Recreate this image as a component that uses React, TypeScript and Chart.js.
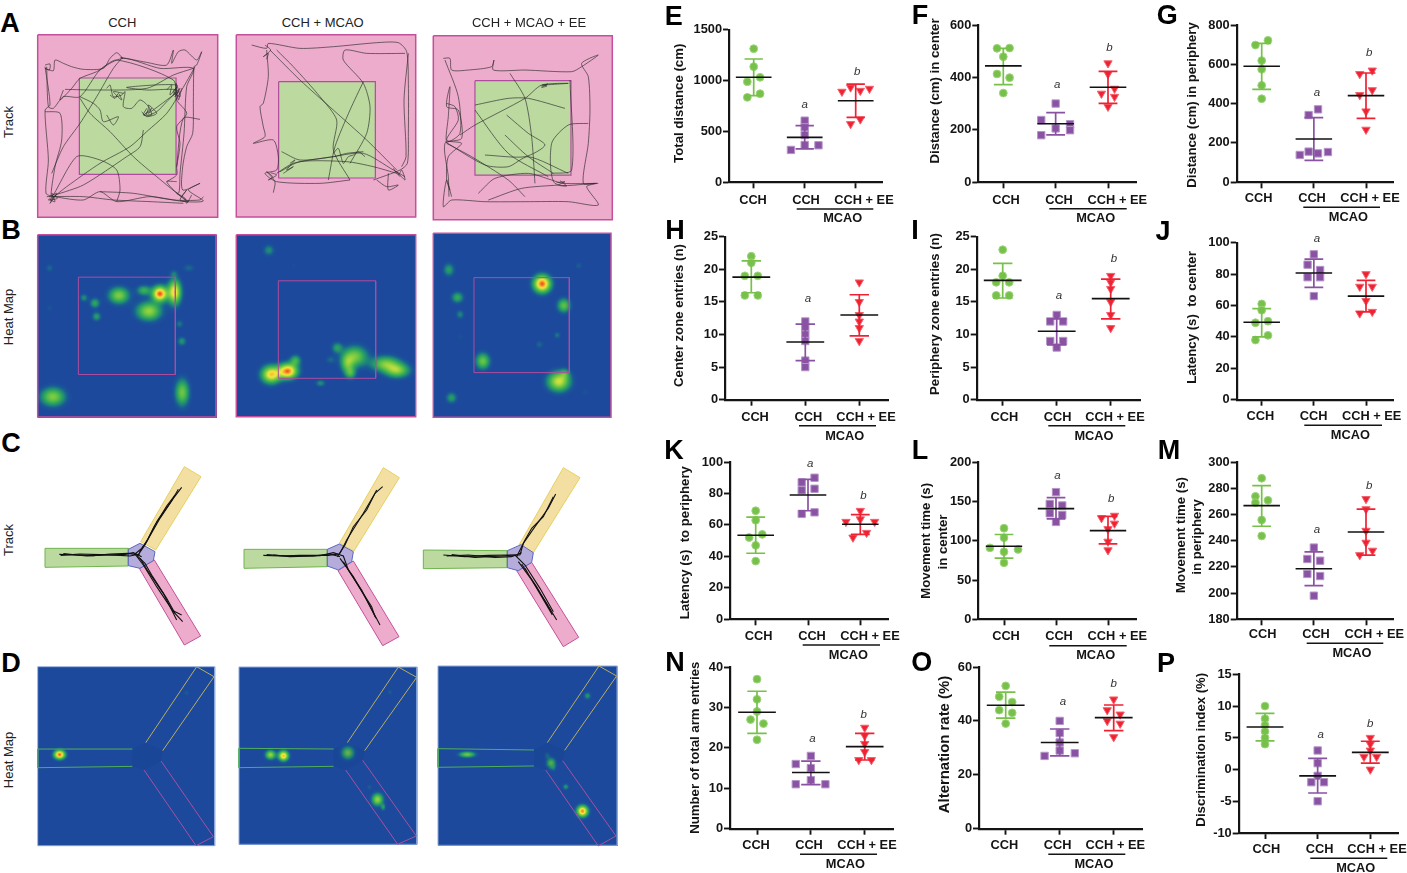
import React, { useEffect, useRef } from "react";
import { Chart, registerables } from "chart.js";

Chart.register(...registerables);
Chart.defaults.font.family = "'Liberation Sans', Arial, sans-serif";

// ---------- scatter data: each point is [horizontal spread, value] ----------
const E_CCH = [[0,1313],[0,1137],[-.125,989],[.125,1032],[-.125,835],[.125,871]];
const E_MCAO = [[0,606],[0,540],[0,465],[0,367],[-.27,318],[.27,364]];
const E_EE = [[-.27,891],[-.1,933],[.09,900],[.27,920],[.09,619],[-.1,573]];
const E_MEAN = [1032,442,802], E_HIGH = [1212,557,966], E_LOW = [852,328,639];
const E_MARKS = [[2,0,763,"a"],[3,.03,1087,"b"]];

const F_CCH = [[-.12,512],[.12,513],[0,480],[-.12,414],[.12,400],[0,341]];
const F_MCAO = [[0,301],[-.275,238],[.275,222],[.275,199],[0,206],[-.275,180]];
const F_EE = [[0,455],[0,414],[.125,358],[-.125,339],[.125,327],[0,289]];
const F_MEAN = [445,224,363], F_HIGH = [512,266,424], F_LOW = [373,181,302];
const F_MARKS = [[2,.03,373,"a"],[3,.03,515,"b"]];

const G_CCH = [[.12,722],[-.12,698],[0,619],[0,575],[0,493],[0,425]];
const G_MCAO = [[.08,371],[-.1,342],[-.27,139],[-.1,156],[.08,147],[.27,154]];
const G_EE = [[-.12,551],[.12,569],[-.12,444],[.12,469],[0,361],[0,268]];
const G_MEAN = [590,220,441], G_HIGH = [707,329,556], G_LOW = [473,112,325];
const G_MARKS = [[2,.06,456,"a"],[3,.06,659,"b"]];

const H_CCH = [[0,22],[0,21],[-.12,19],[.12,19],[-.12,16],[.12,16]];
const H_MCAO = [[0,12],[0,11],[0,10],[0,9],[0,6],[0,5]];
const H_EE = [[0,18],[0,15],[0,13],[0,12],[0,11],[0,9]];
const H_MEAN = [18.8,8.85,13], H_HIGH = [21.3,11.6,16.1], H_LOW = [16.4,6,9.8];
const H_MARKS = [[2,.05,15.4,"a"]];

const I_CCH = [[0,23],[0,19],[-.12,18],[.12,18],[-.12,16],[.12,16]];
const I_MCAO = [[0,13],[-.12,12],[.12,12],[-.12,9],[.12,9],[0,8]];
const I_EE = [[0,19],[0,18],[0,17],[0,15],[0,13],[0,11]];
const I_MEAN = [18.3,10.5,15.5], I_HIGH = [20.9,12.4,18.5], I_LOW = [15.6,8.4,12.4];
const I_MARKS = [[2,.04,15.9,"a"],[3,.06,21.6,"b"]];

const J_CCH = [[0,61],[0,57],[-.12,49],[.12,50],[-.12,38],[.12,41]];
const J_MCAO = [[0,92.6],[-.12,86],[.12,82.6],[-.12,78],[.12,78],[0,66]];
const J_EE = [[0,80],[-.12,72],[.12,72],[0,63],[-.12,55],[.12,56]];
const J_MEAN = [49.3,80.7,66], J_HIGH = [58,89.6,76], J_LOW = [40,71.5,56];
const J_MARKS = [[2,.06,102.3,"a"]];

const K_CCH = [[0,69],[0,63],[-.125,52],[.125,54],[0,47],[0,37]];
const K_MCAO = [[.125,90],[-.12,87],[-.12,82],[.125,83],[-.12,67],[.125,68]];
const K_EE = [[0,69],[0,63.6],[-.274,62],[.274,62],[.12,55],[-.14,52]];
const K_MEAN = [53.4,79,60.4], K_HIGH = [65,89,66.5], K_LOW = [42,69,54];
const K_MARKS = [[2,.04,99,"a"],[3,.06,78.6,"b"]];

const L_CCH = [[0,116],[0,104],[-.27,91],[.27,89],[0,86],[0,72]];
const L_MCAO = [[0,162],[-.12,147],[.12,145],[-.12,135],[.12,133],[0,124]];
const L_EE = [[.125,132],[-.125,129],[.125,122],[0,115],[0,99],[0,88]];
const L_MEAN = [93,141,113], L_HIGH = [108,155,131], L_LOW = [78,128,96];
const L_MARKS = [[2,.03,183,"a"],[3,.06,154,"b"]];

const M_CCH = [[0,287.6],[-.12,273.8],[-.12,269],[.12,270.8],[0,255.8],[0,243.6]];
const M_MCAO = [[0,234.7],[-.125,226],[.12,224.7],[-.125,214.6],[.12,213],[0,198]];
const M_EE = [[0,271.8],[0,264],[0,247.6],[0,238.5],[.125,232.4],[-.12,229]];
const M_MEAN = [266.7,218.6,246.6], M_HIGH = [282,231.4,264], M_LOW = [251,205.7,229];
const M_MARKS = [[2,.06,248.6,"a"],[3,.06,282,"b"]];

const N_CCH = [[0,37],[0,32],[0,29],[-.12,27],[.12,26],[0,22]];
const N_MCAO = [[0,18],[-.28,16],[0,15],[0,12],[-.28,11],[.27,11]];
const N_EE = [[0,25],[0,23],[0,21],[0,19],[-.11,17],[.125,17]];
const N_MEAN = [28.8,13.9,20.3], N_HIGH = [34,16.7,23.6], N_LOW = [23.6,10.9,17];
const N_MARKS = [[2,.03,22.3,"a"],[3,-.02,28.3,"b"]];

const O_CCH = [[0,53],[-.12,49],[.12,47],[-.12,44],[.12,43],[0,39]];
const O_MCAO = [[0,40],[0,35.5],[0,32],[0,29],[-.28,27],[.28,28]];
const O_EE = [[0,48],[-.12,44],[.12,42.4],[-.12,40],[.12,39],[0,34]];
const O_MEAN = [45.8,32,41.2], O_HIGH = [50.7,37,45.9], O_LOW = [41,27,36.4];
const O_MARKS = [[2,.06,47,"a"],[3,0,53.6,"b"]];

const P_CCH = [[0,10],[0,8],[0,7],[0,6],[0,5],[0,4]];
const P_MCAO = [[0,3],[0,1],[0,-1],[-.12,-2],[.12,-2],[0,-5]];
const P_EE = [[0,5],[0,4],[0,3],[-.12,2],[.12,2],[0,0]];
const P_MEAN = [6.7,-1,2.7], P_HIGH = [8.85,1.76,4.45], P_LOW = [4.5,-3.7,1];
const P_MARKS = [[2,.06,5.5,"a"],[3,0,7.2,"b"]];

const TICK_LABELS = ["CCH", "CCH", "CCH + EE"];

// ---------- arena tracks (arena trace units) ----------
const A1_T1 = [[135,195],[150,192],[148,210],[135,205],[160,212],[165,180],[190,190],[215,200],[250,208],[310,205],[330,175],[350,158],[368,175],[362,172],[440,187],[500,195],[520,150],[515,190],[535,155],[555,150],[590,180],[605,155],[590,195],[582,200],[580,300],[578,400],[560,440],[548,500],[548,570],[600,550],[565,570],[610,603],[555,605],[450,590],[350,605],[300,575],[250,600],[165,590],[138,580],[145,480],[135,330],[150,315],[135,200]];
const A1_T2 = [[140,200],[145,320],[160,325],[190,290],[240,290],[300,210],[370,175],[480,205],[580,205],[560,260],[552,400],[540,520],[535,580],[500,545],[530,545]];
const A1_T3 = [[150,600],[200,560],[300,490],[390,440],[440,395],[500,340],[545,270],[585,200]];
const A1_T4 = [[155,520],[190,440],[240,370],[290,290],[340,205],[365,175]];
const A1_T5 = [[240,295],[270,340],[330,395],[400,470],[470,530],[555,600]];
const A1_T6 = [[135,335],[180,340],[185,420],[165,500],[155,590],[230,470],[300,480],[350,510],[360,570],[350,605]];
const A1_T7 = [[320,265],[330,255],[340,290],[365,285],[375,275],[370,320],[395,325],[420,300],[445,320],[440,345],[470,335],[500,305],[530,270],[440,270],[380,262],[530,255],[520,285],[540,265],[525,290],[535,275],[445,340],[455,325],[432,345],[445,335]];
const A1_T8 = [[240,290],[280,310],[300,330],[310,365],[355,350],[340,375],[320,345]];
const A1_T9 = [[150,600],[165,605],[155,580],[172,595],[145,600],[160,590],[150,610],[170,580],[148,590]];
const A1_T10 = [[545,590],[560,570],[540,600],[565,605],[530,580],[555,595],[560,610],[575,585]];
const A1_T11 = [[430,390],[420,440],[380,470],[250,555],[165,585]];
const A1_T12 = [[600,358],[550,355],[530,500],[530,525],[500,545]];
const A1_T13 = [[195,268],[290,270],[440,265],[520,225],[580,205]];
const A1_T14 = [[500,270],[515,255],[510,285],[530,262],[520,275],[540,290],[528,250],[535,300],[545,265]];
const A1_T15 = [[440,325],[430,345],[455,345],[445,315],[470,340],[440,350],[425,335]];
const A1_T16 = [[330,285],[345,295],[355,280],[365,300],[340,275],[370,280]];
const A1_T17 = [[190,270],[180,300],[215,265],[240,235],[290,215],[350,180],[520,240],[530,300],[560,340],[530,380],[540,430],[530,500]];
const A1_T18 = [[300,575],[400,580],[520,600],[600,600],[610,590]];
const A1_T19 = [[140,590],[250,590],[340,600],[450,605],[550,610]];

const A2_T1 = [[755,135],[800,145],[805,130],[900,145],[1000,140],[1130,128],[1195,128],[1220,155],[1225,250],[1225,400],[1222,490],[1200,510],[1120,540]];
const A2_T2 = [[800,150],[805,230],[790,310],[780,320],[790,380],[795,410],[760,430],[820,420],[835,470],[830,510],[795,520],[830,545],[960,550],[1050,540]];
const A2_T3 = [[830,520],[880,490],[1000,470],[1090,460],[1180,510],[1215,530]];
const A2_T4 = [[840,515],[900,485],[1040,485],[1120,500],[1190,520]];
const A2_T5 = [[810,150],[900,240],[1000,330],[1100,420],[1190,510]];
const A2_T6 = [[830,150],[880,200],[960,290],[1010,360],[1000,450],[1050,540]];
const A2_T7 = [[1090,245],[1050,330],[1005,440],[985,540]];
const A2_T8 = [[1215,160],[1100,160],[1035,150],[1030,180],[1090,250],[1110,320],[1100,400],[1050,490]];
const A2_T9 = [[1130,540],[1160,560],[1195,555],[1165,570],[1165,520]];
const A2_T10 = [[820,578],[825,545],[800,515],[818,530],[805,540],[830,525],[812,518]];
const A2_T11 = [[1180,505],[1195,525],[1205,510],[1215,540],[1190,515],[1200,530]];
const A2_T12 = [[795,135],[812,150],[790,170],[805,160],[800,178]];
const A2_T13 = [[1225,160],[1212,300],[1218,470],[1205,500]];
const A2_T14 = [[845,455],[900,480],[1000,470],[1040,460],[1090,455]];
const A2_T15 = [[1000,460],[1015,445],[1030,490],[1045,470],[1060,465],[1075,455],[1095,470]];
const A2_T16 = [[870,490],[885,480],[860,510],[880,500],[850,520]];

const A3_T1 = [[55,145],[75,145],[80,180],[130,180],[200,170],[207,150],[205,180],[300,180],[440,185],[470,170],[520,135],[470,160],[490,200],[495,300],[490,400],[475,520],[515,520],[485,530],[520,585],[430,575],[300,575],[180,575],[80,570],[55,590],[65,510],[80,560]];
const A3_T2 = [[60,150],[100,260],[105,370],[65,395],[70,320],[75,230],[65,290],[100,300],[110,385],[60,400],[70,500],[72,560]];
const A3_T3 = [[150,285],[250,265],[310,265],[420,295]];
const A3_T4 = [[255,190],[300,265],[320,380],[330,520]];
const A3_T5 = [[355,225],[430,220],[350,225],[300,265],[150,345],[105,375]];
const A3_T6 = [[245,315],[310,370],[360,405],[300,440],[180,435]];
const A3_T7 = [[150,300],[250,430],[370,500]];
const A3_T8 = [[60,395],[180,465],[250,470],[310,440],[430,490]];
const A3_T9 = [[65,400],[140,440],[250,510],[300,560]];
const A3_T10 = [[160,550],[210,505],[310,490],[380,510],[415,520],[520,520]];
const A3_T11 = [[510,520],[390,520],[380,400],[430,345],[490,340]];
const A3_T12 = [[240,375],[310,440],[385,490]];
const A3_T13 = [[190,570],[290,535],[400,525]];
const A3_T14 = [[435,210],[440,480],[380,490]];
const A3_T15 = [[348,228],[368,222],[350,232],[366,228],[352,224]];
const A3_T16 = [[395,518],[420,515],[400,525],[425,528],[405,512]];
const A3_T17 = [[65,280],[90,290],[100,330],[65,390],[110,400],[70,440],[65,510],[75,540]];

// ---------- Y-maze tracks ----------
const C1_T1 = [[178,373],[220,375],[280,377],[330,372],[385,370],[410,374]];
const C1_T2 = [[182,376],[240,372],[300,374],[360,376],[390,378],[420,372]];
const C1_T3 = [[545,172],[520,205],[480,265],[440,335],[425,355],[405,372]];
const C1_T4 = [[535,178],[515,212],[472,272],[445,325],[418,368]];
const C1_T5 = [[405,372],[430,405],[470,470],[520,545],[548,575]];
const C1_T6 = [[420,385],[445,425],[490,490],[530,570],[515,540],[545,555]];
const C1_T7 = [[190,371],[260,378],[320,375],[375,373],[400,368],[425,380]];
const C1_T8 = [[525,195],[500,228],[462,290],[435,345],[412,378],[435,400],[458,440],[500,505],[525,550]];
const C2_T1 = [[790,376],[840,378],[900,376],[985,376],[1015,372]];
const C2_T2 = [[800,374],[860,378],[940,378],[990,372],[1020,380]];
const C2_T3 = [[1148,170],[1125,190],[1090,250],[1040,330],[1020,370]];
const C2_T4 = [[1130,180],[1100,240],[1060,290],[1035,345],[1012,380]];
const C2_T5 = [[1020,385],[1060,440],[1100,510],[1140,585]];
const C2_T6 = [[1030,395],[1070,460],[1115,530],[1125,560]];
const C2_T7 = [[820,375],[870,380],[960,377],[1000,368],[1030,378],[1045,420],[1085,480],[1128,565]];
const C3_T1 = [[85,345],[150,350],[220,346],[280,345],[315,345]];
const C3_T2 = [[95,348],[160,345],[240,352],[290,350],[320,338]];
const C3_T3 = [[422,162],[400,205],[360,260],[325,310],[315,345]];
const C3_T4 = [[415,170],[385,230],[350,265],[330,300],[305,350]];
const C3_T5 = [[310,365],[350,420],[395,490],[425,540]];
const C3_T6 = [[320,372],[365,440],[405,510],[412,525],[330,385]];
const C3_T7 = [[110,344],[180,352],[260,348],[300,345],[330,375],[375,445],[415,515]];

// ---------- heat map peaks: x, y, spreadX, spreadY, strength ----------
const B1_PEAKS = [[478,880,15,15,.95],[522,875,13,24,.76],[445,932,24,18,.55],[430,870,14,10,.32],[355,885,20,16,.5],[250,892,8,8,.2],[283,908,10,10,.28],[288,948,9,9,.25],[147,803,8,8,.12],[520,820,8,8,.12],[565,803,12,8,.12],[537,970,8,8,.15],[544,1022,9,9,.22],[545,1175,14,26,.46],[157,1188,24,18,.5],[147,922,8,8,.06]];
const B2_PEAKS = [[812,1122,19,17,.78],[862,1112,19,15,.92],[885,1080,11,11,.32],[805,750,11,11,.2],[1010,1042,11,11,.25],[990,1078,10,8,.12],[1063,1068,24,20,.48],[1040,1090,13,18,.36],[1050,1118,11,12,.32],[1155,1090,28,15,.48],[1190,1110,24,14,.5],[960,1148,10,7,.2],[880,797,6,6,.05]];
const B3_PEAKS = [[350,820,17,17,.95],[70,778,11,13,.25],[96,861,12,11,.3],[104,912,8,9,.18],[105,980,8,8,.05],[460,766,7,7,.1],[415,885,13,14,.42],[395,974,7,7,.15],[342,1002,8,8,.12],[172,1052,14,16,.45],[400,1113,22,19,.66],[418,1090,10,10,.22],[78,1162,11,11,.25],[480,1145,8,8,.06]];
const D1_PEAKS = [[177,972,11,9,.95],[558,787,5,5,.1]];
const D2_PEAKS = [[810,973,10,9,.55],[849,976,10,10,.82],[1042,967,12,12,.5],[1131,1107,11,12,.55],[1148,1130,5,7,.22],[1107,1070,5,5,.1],[1168,785,5,5,.1]];
const D3_PEAKS = [[155,942,16,6,.45],[516,766,7,7,.22],[407,968,9,10,.45],[395,945,6,7,.12],[415,985,5,6,.08],[451,1039,6,6,.22],[501,1112,11,11,.9]];

// ---------- styles ----------
const GREEN = "#77c14a", PURPLE = "#8a52a3", RED = "#ef2233", INK = "#141414";
const PINK = "#eeaccc", PINK_EDGE = "#c4509b", LAWN = "#bcd9a0", LAWN_EDGE = "#b04c9f";
const FIELD_EDGE = "#b04c9f", HEAT_EDGE = "#c4509b", D_EDGE = "#8ea9dc";
const KEY_COLORS = [[0,28,73,156],[.07,26,90,150],[.16,30,135,122],[.3,55,175,85],[.5,130,205,65],[.72,245,235,60],[.88,250,150,40],[1,235,25,30]];

function shade(raw: number) {
  const t = Math.max(0, Math.min(1, (raw - 0.02) / 0.98));
  for (let i = 1; i < KEY_COLORS.length; i++) {
    if (t <= KEY_COLORS[i][0]) {
      const a = KEY_COLORS[i - 1], b = KEY_COLORS[i];
      const f = (t - a[0]) / (b[0] - a[0]);
      return [a[1] + (b[1] - a[1]) * f, a[2] + (b[2] - a[2]) * f, a[3] + (b[3] - a[3]) * f];
    }
  }
  return KEY_COLORS[KEY_COLORS.length - 1].slice(1);
}

const sq = (x0: number, y0: number, x1: number, y1: number) => [[x0,y0],[x1,y0],[x1,y1],[x0,y1],[x0,y0]];

// ---------- page layout of the tiles ----------
const arenaTile = (rect: number[], units: number[], inner: number[], tracks: number[][][]) => ({
  rect, units,
  polys: [
    { pts: sq(units[0], units[2], units[1], units[3]), fill: PINK, stroke: PINK_EDGE, w: 1.5 },
    { pts: sq(inner[0], inner[1], inner[2], inner[3]), fill: LAWN, stroke: LAWN_EDGE, w: 1.2 },
  ],
  lines: tracks, lineW: 0.65, lineC: "#2a2a2a", bend: 0.25,
});
const heatTile = (rect: number[], units: number[], inner: number[], peaks: number[][]) => ({
  rect, units, peaks,
  polys: [
    { pts: sq(units[0], units[2], units[1], units[3]), fill: "transparent", stroke: HEAT_EDGE, w: 1.5 },
    { pts: sq(inner[0], inner[1], inner[2], inner[3]), fill: "transparent", stroke: FIELD_EDGE, w: 1 },
  ],
  lines: [],
});
const mazeTile = (rect: number[], units: number[], g: number[][], c: number[][], y: number[][], p: number[][], tracks: number[][][]) => ({
  rect, units,
  polys: [
    { pts: [...g, g[0]], fill: LAWN, stroke: "#6fb54f", w: 1 },
    { pts: [...y, y[0]], fill: "#f3dfa2", stroke: "#e6d060", w: 1 },
    { pts: [...p, p[0]], fill: PINK, stroke: PINK_EDGE, w: 1 },
    { pts: [...c, c[0]], fill: "#b6acdc", stroke: "#5a68c0", w: 1 },
  ],
  lines: tracks, lineW: 1.1, lineC: "#111", bend: 0,
});
const mazeHeat = (rect: number[], units: number[], peaks: number[][], g: number[][], y: number[][], p: number[][], c: number[][]) => ({
  rect, units, peaks,
  polys: [
    { pts: [...c, c[0]], fill: "rgba(22,58,135,.2)", stroke: "transparent", w: 0 },
    { pts: sq(units[0], units[2], units[1], units[3]), fill: "transparent", stroke: D_EDGE, w: 1 },
    { pts: g, fill: "transparent", stroke: "#4fae5a", w: 1 },
    { pts: y, fill: "transparent", stroke: "#b9ad5e", w: 1 },
    { pts: p, fill: "transparent", stroke: "#a850a0", w: 1 },
  ],
  lines: [],
});

const TILES: any[] = [
  arenaTile([37.7,34.7,217.7,217.3],[113,653,104,652],[238,234,528,523],[A1_T1,A1_T2,A1_T3,A1_T4,A1_T5,A1_T6,A1_T7,A1_T8,A1_T9,A1_T10,A1_T11,A1_T12,A1_T13,A1_T14,A1_T15,A1_T16,A1_T17,A1_T18,A1_T19]),
  arenaTile([236.3,34.7,415.7,217],[709,1247,104,651],[836,245,1126,534],[A2_T1,A2_T2,A2_T3,A2_T4,A2_T5,A2_T6,A2_T7,A2_T8,A2_T9,A2_T10,A2_T11,A2_T12,A2_T13,A2_T14,A2_T15,A2_T16]),
  arenaTile([433.3,35.7,612.3,219.7],[25,562,77,629],[150,212,438,495],[A3_T1,A3_T2,A3_T3,A3_T4,A3_T5,A3_T6,A3_T7,A3_T8,A3_T9,A3_T10,A3_T11,A3_T12,A3_T13,A3_T14,A3_T15,A3_T16,A3_T17]),
  heatTile([37.7,234.7,216,417],[113,648,705,1250],[235,832,526,1123],B1_PEAKS),
  heatTile([236.3,234.7,415.7,416.7],[709,1247,705,1250],[835,843,1127,1135],B2_PEAKS),
  heatTile([433.3,233.3,611,417.3],[25,558,670,1222],[147,803,433,1088],B3_PEAKS),
  mazeTile([40,460,205,650],[120,615,90,660],[[135,355],[385,355],[385,408],[135,412]],[[385,358],[420,340],[465,365],[460,392],[420,415],[385,407]],[[553,110],[603,140],[467,360],[422,335]],[[463,390],[602,618],[553,645],[418,415]],[C1_T1,C1_T2,C1_T3,C1_T4,C1_T5,C1_T6,C1_T7,C1_T8]),
  mazeTile([240,460,405,650],[720,1215,90,660],[[732,358],[982,358],[982,410],[732,415]],[[982,358],[1018,342],[1060,365],[1055,395],[1015,420],[982,408]],[[1150,113],[1198,143],[1062,363],[1018,340]],[[1060,393],[1197,620],[1148,647],[1014,422]],[C2_T1,C2_T2,C2_T3,C2_T4,C2_T5,C2_T6,C2_T7]),
  mazeTile([420,460,585,650],[15,510,60,630],[[25,330],[277,332],[277,383],[25,386]],[[277,332],[318,314],[355,338],[350,367],[310,392],[277,383]],[[445,83],[495,113],[355,338],[312,315]],[[350,367],[491,592],[445,620],[305,392]],[C3_T1,C3_T2,C3_T3,C3_T4,C3_T5,C3_T6,C3_T7]),
  mazeHeat([37.7,666.7,214.7,845.7],[113,644,710,1247],D1_PEAKS,[[397,957],[113,957],[113,1013],[397,1009]],[[437,938],[590,710],[642,740],[488,962]],[[432,1020],[588,1247],[640,1220],[483,993]],[[397,957],[437,938],[488,962],[483,993],[432,1020],[397,1009]]),
  mazeHeat([239,667,417,844.3],[717,1251,711,1243],D2_PEAKS,[[1001,957],[717,955],[717,1013],[1001,1009]],[[1042,938],[1195,711],[1250,742],[1094,962]],[[1037,1020],[1193,1243],[1249,1218],[1088,991]],[[1001,957],[1042,938],[1094,962],[1088,991],[1037,1020],[1001,1009]]),
  mazeHeat([438,666,617.3,845.3],[69,607,678,1216],D3_PEAKS,[[357,930],[69,926],[69,982],[357,978]],[[397,908],[552,678],[605,708],[449,931]],[[392,990],[550,1218],[603,1188],[443,962]],[[357,930],[397,908],[449,931],[443,962],[392,990],[357,978]]),
];

const PANELS: any[] = [
  { groups:[E_CCH,E_MCAO,E_EE], mean:E_MEAN, high:E_HIGH, low:E_LOW, marks:E_MARKS, y:[0,1500,500], ax:729, top:29.7, bot:182.3, end:882.7, t:[753.7,805,855.7], l:[753,806,864], ly:198.7, bar:[796.7,873.3,209], m:[842.7,218.7], title:[["Total distance (cm)",679,103.3]] },
  { groups:[F_CCH,F_MCAO,F_EE], mean:F_MEAN, high:F_HIGH, low:F_LOW, marks:F_MARKS, y:[0,600,200], ax:978.3, top:25.3, bot:182.3, end:1136, t:[1003.3,1056,1108], l:[1006,1059,1117.3], ly:198.7, bar:[1049.3,1126.7,208.7], m:[1095.7,218.3], title:[["Distance (cm) in center",935,91]] },
  { groups:[G_CCH,G_MCAO,G_EE], mean:G_MEAN, high:G_HIGH, low:G_LOW, marks:G_MARKS, y:[0,800,200], ax:1236.7, top:25, bot:182.3, end:1393.3, t:[1261.7,1314.3,1366], l:[1258.7,1312,1370], ly:197.3, bar:[1303.3,1380,207.3], m:[1348.3,217.7], title:[["Distance (cm) in periphery",1192.3,105]] },
  { groups:[H_CCH,H_MCAO,H_EE], mean:H_MEAN, high:H_HIGH, low:H_LOW, marks:H_MARKS, y:[0,25,5], ax:725, top:236.7, bot:399.7, end:888.3, t:[751.3,805.3,859.3], l:[755,808.3,866], ly:415.7, bar:[799,876,425.7], m:[844.7,436], title:[["Center zone entries (n)",679,315.5]] },
  { groups:[I_CCH,I_MCAO,I_EE], mean:I_MEAN, high:I_HIGH, low:I_LOW, marks:I_MARKS, y:[0,25,5], ax:976.7, top:236.7, bot:399.7, end:1140, t:[1002.7,1057,1110.7], l:[1004.3,1057.7,1115], ly:415.7, bar:[1048.3,1125.3,425.7], m:[1094,436], title:[["Periphery zone entries (n)",935,314]] },
  { groups:[J_CCH,J_MCAO,J_EE], mean:J_MEAN, high:J_HIGH, low:J_LOW, marks:J_MARKS, y:[0,100,20], ax:1236.7, top:242.7, bot:399.7, end:1393.3, t:[1261.7,1314,1366], l:[1260.3,1313.7,1371.7], ly:415.3, bar:[1304.3,1382,425.3], m:[1350.3,435.7], title:[["Latency (s)  to center",1192.3,317.5]] },
  { groups:[K_CCH,K_MCAO,K_EE], mean:K_MEAN, high:K_HIGH, low:K_LOW, marks:K_MARKS, y:[0,100,20], ax:730, top:462, bot:619.3, end:888.3, t:[755.7,807.7,860.3], l:[758.7,812,870], ly:635, bar:[802.7,880,645], m:[848.3,655], title:[["Latency (s)  to periphery",685.7,542.7]] },
  { groups:[L_CCH,L_MCAO,L_EE], mean:L_MEAN, high:L_HIGH, low:L_LOW, marks:L_MARKS, y:[0,200,50], ax:978.3, top:462.3, bot:619.3, end:1136, t:[1004,1056,1108], l:[1006,1059,1117.3], ly:635.3, bar:[1049.3,1126.7,645.7], m:[1095.7,655.7], title:[["Movement time (s)",926.7,540.8],["in center",943.3,542]] },
  { groups:[M_CCH,M_MCAO,M_EE], mean:M_MEAN, high:M_HIGH, low:M_LOW, marks:M_MARKS, y:[180,300,20], ax:1236.7, top:462, bot:619.3, end:1393.3, t:[1261.7,1314.3,1366], l:[1262.7,1316,1374.3], ly:633.3, bar:[1306.7,1383.3,643.3], m:[1352,653.3], title:[["Movement time (s)",1181,535],["in periphery",1197.7,537]] },
  { groups:[N_CCH,N_MCAO,N_EE], mean:N_MEAN, high:N_HIGH, low:N_LOW, marks:N_MARKS, y:[0,40,10], ax:730, top:667, bot:828.7, end:893.3, t:[757,811,864.7], l:[756,809,867], ly:844.3, bar:[800,877,854.3], m:[845.3,864.3], title:[["Number of total arm entries",695.7,747.7]] },
  { groups:[O_CCH,O_MCAO,O_EE], mean:O_MEAN, high:O_HIGH, low:O_LOW, marks:O_MARKS, y:[0,60,20], ax:979, top:667, bot:828.7, end:1142, t:[1005.7,1059.3,1113.7], l:[1004.3,1057.7,1115.3], ly:844.3, bar:[1048.3,1125.3,854.3], m:[1094,864.3], title:[["Alternation rate (%)",945,744.5]], titleSize:14.9 },
  { groups:[P_CCH,P_MCAO,P_EE], mean:P_MEAN, high:P_HIGH, low:P_LOW, marks:P_MARKS, y:[-10,15,5], ax:1238.7, top:674.3, bot:833, end:1398.3, t:[1265,1317.3,1370.3], l:[1266.3,1319.7,1377], ly:847.7, bar:[1310.3,1387.3,858.3], m:[1355.7,868.3], title:[["Discrimination index (%)",1201.7,749.7]] },
];

const PAGE_TEXT: any[] = [
  ["A",10,23,27,700,0],["B",11,230,27,700,0],["C",11,443,27,700,0],["D",11,662.5,27,700,0],
  ["E",673.7,15.7,27,700,0],["F",920,14.5,27,700,0],["G",1167.3,15,27,700,0],
  ["H",675,230,27,700,0],["I",915,230,27,700,0],["J",1163,231,27,700,0],
  ["K",674,450,27,700,0],["L",920,450,27,700,0],["M",1169,450,27,700,0],
  ["N",675,662,27,700,0],["O",921.7,662,27,700,0],["P",1166,663,27,700,0],
  ["CCH",122.3,21.7,13,400,0],["CCH + MCAO",322.7,21.7,13,400,0],["CCH + MCAO + EE",529,21.7,13,400,0],
  ["Track",8.3,121.7,13,400,-90],["Heat Map",8,316.7,13,400,-90],["Track",8.3,540,13,400,-90],["Heat Map",8,760,13,400,-90],
];

function makePanel(canvas: HTMLCanvasElement, p: any, box: any) {
  const s = (p.t[2] - p.t[0]) / 2;
  const xMin = 1 - (p.t[0] - p.ax) / s, xMax = 3 + (p.end - p.t[2]) / s;
  const styles = [
    { c: GREEN, edge: "#9dd57c", shape: "circle", r: 3.9, rot: 0 },
    { c: PURPLE, edge: "#b596c8", shape: "rect", r: 5.2, rot: 0 },
    { c: RED, edge: "#f4626d", shape: "triangle", r: 4.8, rot: 180 },
  ];
  const datasets: any[] = [];
  p.groups.forEach((g: number[][], i: number) => {
    const st = styles[i], x = i + 1;
    datasets.push({
      data: g.map(([o, v]) => ({ x: x + o, y: v })),
      showLine: false, pointStyle: st.shape, pointRadius: st.r, pointRotation: st.rot,
      backgroundColor: st.c, borderColor: st.edge, pointBorderWidth: 1, order: 3, clip: false,
    });
    const hi = p.high[i], lo = p.low[i], cap = 0.18;
    datasets.push({
      data: [{x:x-cap,y:hi},{x:x+cap,y:hi},{x,y:hi},{x,y:lo},{x:x-cap,y:lo},{x:x+cap,y:lo}],
      showLine: true, pointRadius: 0, borderColor: st.c, borderWidth: 1.7, order: 2, clip: false, tension: 0,
    });
    datasets.push({
      data: [{x:x-.35,y:p.mean[i]},{x:x+.35,y:p.mean[i]}],
      showLine: true, pointRadius: 0, borderColor: "#111", borderWidth: 1.6, order: 1, clip: false,
    });
  });
  const notes = {
    id: "notes",
    afterDraw(chart: any) {
      const ctx = chart.ctx;
      ctx.save();
      ctx.fillStyle = INK; ctx.strokeStyle = INK;
      ctx.textBaseline = "middle"; ctx.textAlign = "center";
      ctx.font = `bold ${p.titleSize || 13.2}px 'Liberation Sans'`;
      for (const [text, x, y] of p.title) {
        ctx.save(); ctx.translate(x - box.left, y - box.top); ctx.rotate(-Math.PI / 2);
        ctx.fillText(text, 0, 0); ctx.restore();
      }
      ctx.lineWidth = 1.6;
      ctx.beginPath(); ctx.moveTo(p.bar[0] - box.left, p.bar[2] - box.top); ctx.lineTo(p.bar[1] - box.left, p.bar[2] - box.top); ctx.stroke();
      ctx.font = "bold 12.8px 'Liberation Sans'";
      ctx.fillText("MCAO", p.m[0] - box.left, p.m[1] - box.top);
      ctx.font = "italic 11.5px 'Liberation Sans'";
      ctx.fillStyle = "#333";
      for (const [g, o, v, t] of p.marks) {
        ctx.fillText(t, chart.scales.x.getPixelForValue(g + o), chart.scales.y.getPixelForValue(v));
      }
      ctx.restore();
    },
  };
  const tickFont = { size: 12.8, weight: "bold" as const };
  const lMap = p.l.map((lx: number) => 1 + (lx - p.t[0]) / s);
  const xTickH = 7;
  const labelH = box.h - (p.bot - box.top) - xTickH;
  return new Chart(canvas, {
    type: "scatter",
    data: { datasets },
    plugins: [notes],
    options: {
      animation: false, responsive: false, events: [],
      layout: { padding: { left: 0, top: p.top - box.top, right: box.left + box.w - p.end, bottom: 0 } },
      plugins: { legend: { display: false }, tooltip: { enabled: false } },
      scales: {
        y: {
          min: p.y[0], max: p.y[1], position: "left",
          afterFit(sc: any) { sc.width = p.ax - box.left; },
          border: { color: INK, width: 2.2 },
          grid: { drawOnChartArea: false, drawTicks: true, tickLength: 6, tickWidth: 1.9, tickColor: INK },
          ticks: { stepSize: p.y[2], padding: 1, color: INK, font: tickFont, callback: (v: any) => String(v) },
        },
        x: {
          type: "linear", min: xMin, max: xMax, position: "bottom", weight: 0,
          afterBuildTicks(sc: any) { sc.ticks = [{ value: 1 }, { value: 2 }, { value: 3 }]; },
          afterFit(sc: any) { sc.height = xTickH; },
          border: { color: INK, width: 2.2 },
          grid: { drawOnChartArea: false, drawTicks: true, tickLength: 6, tickWidth: 1.9, tickColor: INK },
          ticks: { display: false },
        },
        xl: {
          type: "linear", axis: "x", min: xMin, max: xMax, position: "bottom", weight: 1,
          afterBuildTicks(sc: any) { sc.ticks = lMap.map((value: number) => ({ value })); },
          afterFit(sc: any) { sc.height = labelH; },
          border: { display: false }, grid: { display: false, drawTicks: false },
          ticks: {
            autoSkip: false, maxRotation: 0, minRotation: 0, color: INK, font: tickFont,
            padding: p.ly - 6.4 - (p.bot + xTickH),
            callback: (_v: any, i: number) => TICK_LABELS[i],
          },
        },
      } as any,
    },
  } as any);
}

function makeTile(canvas: HTMLCanvasElement, tile: any, box: any) {
  const datasets: any[] = [];
  let order = 1000;
  if (tile.peaks) {
    datasets.push({
      data: tile.peaks.map(([x, y, sx, sy, a]: number[]) => ({ x, y, sx, sy, a })),
      showLine: false, pointRadius: 0, order: order--,
    });
  }
  for (const poly of tile.polys) {
    datasets.push({
      data: poly.pts.map(([x, y]: number[]) => ({ x, y })),
      showLine: true, fill: poly.fill === "transparent" ? false : "shape", pointRadius: 0, tension: 0,
      backgroundColor: poly.fill, borderColor: poly.stroke, borderWidth: poly.w, clip: false, order: order--,
    });
  }
  for (const line of tile.lines) {
    datasets.push({
      data: line.map(([x, y]: number[]) => ({ x, y })),
      showLine: true, pointRadius: 0, tension: tile.bend, borderColor: tile.lineC, borderWidth: tile.lineW, clip: false, order: order--,
    });
  }
  const heat = {
    id: "heat",
    beforeDatasetsDraw(chart: any) {
      if (!tile.peaks) return;
      const a = chart.chartArea;
      const w = Math.ceil(a.right - a.left), h = Math.ceil(a.bottom - a.top);
      const sx = chart.scales.x, sy = chart.scales.y;
      const kx = Math.abs(sx.getPixelForValue(1) - sx.getPixelForValue(0));
      const ky = Math.abs(sy.getPixelForValue(1) - sy.getPixelForValue(0));
      const off = document.createElement("canvas");
      off.width = w; off.height = h;
      const oc = off.getContext("2d")!;
      const img = oc.createImageData(w, h);
      const pts = chart.getDatasetMeta(0).data;
      const raw = chart.data.datasets[0].data;
      for (let j = 0; j < h; j++) for (let i = 0; i < w; i++) {
        let v = 0;
        for (let n = 0; n < pts.length; n++) {
          const dx = (i + a.left - pts[n].x) / (raw[n].sx * kx);
          const dy = (j + a.top - pts[n].y) / (raw[n].sy * ky);
          v += raw[n].a * Math.exp(-0.5 * (dx * dx + dy * dy));
        }
        const c = shade(v), o = (j * w + i) * 4;
        img.data[o] = c[0]; img.data[o + 1] = c[1]; img.data[o + 2] = c[2]; img.data[o + 3] = 255;
      }
      oc.putImageData(img, 0, 0);
      chart.ctx.drawImage(off, a.left, a.top);
    },
  };
  const [l, t, r, b] = tile.rect;
  return new Chart(canvas, {
    type: "scatter",
    data: { datasets },
    plugins: [heat],
    options: {
      animation: false, responsive: false, events: [],
      layout: { padding: { left: l - box.left, top: t - box.top, right: box.left + box.w - r, bottom: box.top + box.h - b } },
      plugins: { legend: { display: false }, tooltip: { enabled: false } },
      scales: {
        x: { type: "linear", display: false, min: tile.units[0], max: tile.units[1] },
        y: { type: "linear", display: false, min: tile.units[2], max: tile.units[3], reverse: true },
      },
    },
  } as any);
}

const panelBox = (p: any) => {
  const left = Math.round(p.ax - 70), top = Math.round(p.top - 22);
  return { left, top, w: Math.ceil(p.end + 45 - left), h: Math.ceil(p.m[1] + 12 - top) };
};
const tileBox = (t: any) => {
  const [l, tp, r, b] = t.rect;
  const left = Math.floor(l) - 2, top = Math.floor(tp) - 2;
  return { left, top, w: Math.ceil(r) + 2 - left, h: Math.ceil(b) + 2 - top };
};

export default function App() {
  const rootRef = useRef<HTMLDivElement>(null);
  useEffect(() => {
    const charts: Chart[] = [];
    const root = rootRef.current!;
    TILES.forEach((t, i) => {
      charts.push(makeTile(root.querySelector(`#tile${i}`) as HTMLCanvasElement, t, tileBox(t)));
    });
    PANELS.forEach((p, i) => {
      charts.push(makePanel(root.querySelector(`#panel${i}`) as HTMLCanvasElement, p, panelBox(p)));
    });
    return () => charts.forEach((c) => c.destroy());
  }, []);
  return (
    <div ref={rootRef} style={{ position: "absolute", left: 0, top: 0, width: 1407, height: 873, overflow: "hidden", background: "#fff", fontFamily: "'Liberation Sans', Arial, sans-serif" }}>
      {TILES.map((t, i) => {
        const b = tileBox(t);
        return <canvas key={"t" + i} id={`tile${i}`} width={b.w} height={b.h} style={{ position: "absolute", left: b.left, top: b.top }} />;
      })}
      {PANELS.map((p, i) => {
        const b = panelBox(p);
        return <canvas key={"p" + i} id={`panel${i}`} width={b.w} height={b.h} style={{ position: "absolute", left: b.left, top: b.top }} />;
      })}
      {PAGE_TEXT.map(([text, x, y, size, weight, rot], i) => (
        <div key={i} style={{ position: "absolute", left: x, top: y, fontSize: size, fontWeight: weight, lineHeight: 1, whiteSpace: "nowrap", color: weight === 700 ? "#000" : "#222", transform: `translate(-50%,-50%) rotate(${rot}deg)` }}>{text}</div>
      ))}
    </div>
  );
}
